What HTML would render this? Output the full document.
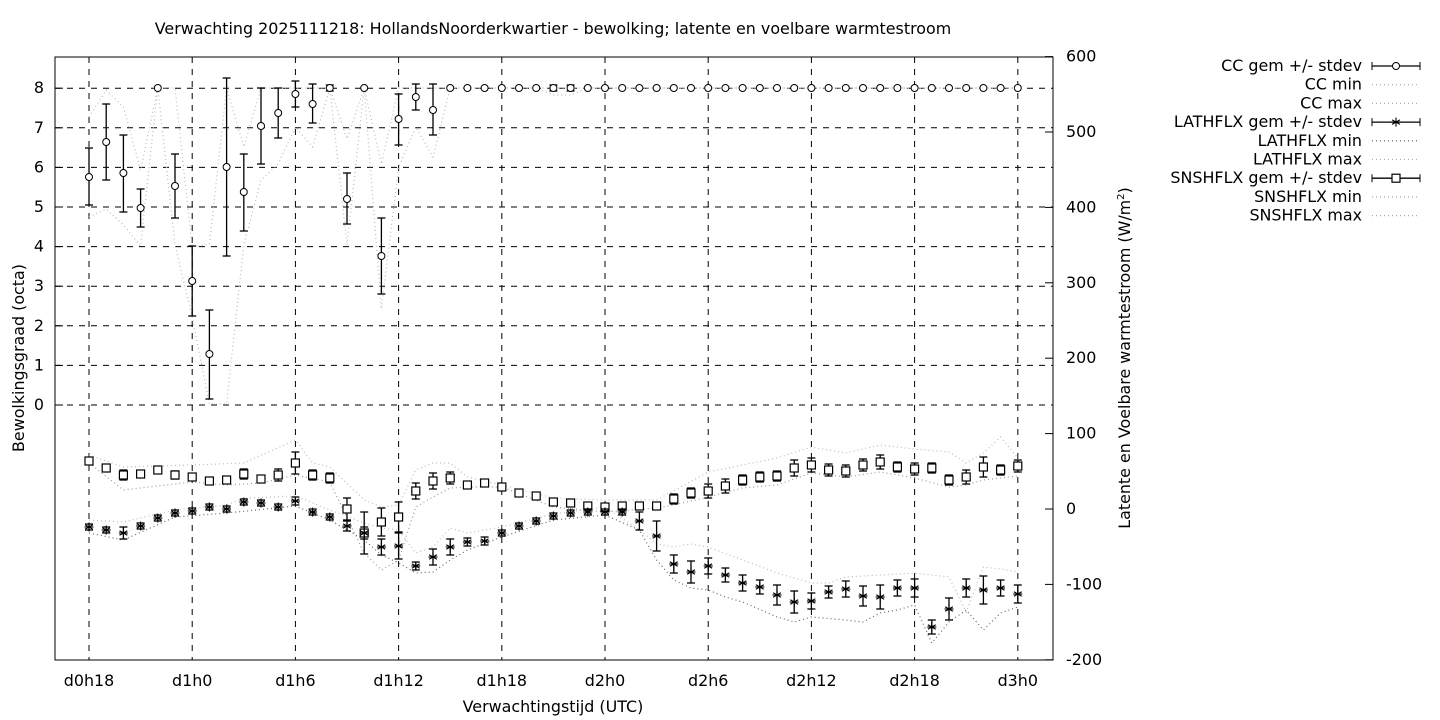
<!DOCTYPE html>
<html><head><meta charset="utf-8"><style>
html,body{margin:0;padding:0;background:#fff;}
svg{display:block;font-family:"DejaVu Sans","Liberation Sans",sans-serif;}
text{font-size:15.9px;fill:#000;}
</style></head><body>
<svg id="s" width="1440" height="720" xmlns="http://www.w3.org/2000/svg">
<text x="553" y="34" text-anchor="middle">Verwachting 2025111218: HollandsNoorderkwartier - bewolking; latente en voelbare warmtestroom</text>
<text x="553" y="712" text-anchor="middle">Verwachtingstijd (UTC)</text>
<text transform="translate(24,358) rotate(-90)" text-anchor="middle">Bewolkingsgraad (octa)</text>
<text transform="translate(1130,358) rotate(-90)" text-anchor="middle">Latente en Voelbare warmtestroom (W/m<tspan font-size="10" dy="-6">2</tspan><tspan dy="6">)</tspan></text>
<g id="g"></g>
</svg>
<script>
const g=document.getElementById('g');const NS='http://www.w3.org/2000/svg';
function el(t,a,txt){const e=document.createElementNS(NS,t);for(const k in a)e.setAttribute(k,a[k]);if(txt!=null)e.textContent=txt;g.appendChild(e);return e;}
const L=55,R=1053,T=57,B=660;
const X=i=>89+i*17.2;
for(let v=0;v<=8;v++){const y=405-v*39.6;el('line',{x1:L,x2:R,y1:y,y2:y,stroke:'#000','stroke-dasharray':'6,6','stroke-width':1});el('text',{x:44,y:y+5,'text-anchor':'end'},v);el('line',{x1:L,x2:L+8,y1:y,y2:y,stroke:'#000'});}
const xl=['d0h18','d1h0','d1h6','d1h12','d1h18','d2h0','d2h6','d2h12','d2h18','d3h0'];
xl.forEach((t,k)=>{const x=X(k*6);el('line',{x1:x,x2:x,y1:T,y2:B,stroke:'#000','stroke-dasharray':'6,6'});el('text',{x:x,y:686,'text-anchor':'middle'},t);});
for(let v=-200;v<=600;v+=100){const y=509-v*0.754;el('line',{x1:R-8,x2:R,y1:y,y2:y,stroke:'#000'});el('text',{x:1066,y:y+5},v);}
el('rect',{x:L,y:T,width:R-L,height:B-T,fill:'none',stroke:'#000'});
function interp(obj){const ks=Object.keys(obj).map(Number).sort((a,b)=>a-b);const out=[];for(let i=0;i<55;i++){if(obj[i]!=null){out.push(obj[i]);continue;}let a=ks.filter(k=>k<i).pop(),b=ks.find(k=>k>i);if(a==null)out.push(obj[b]);else if(b==null)out.push(obj[a]);else out.push(obj[a]+(obj[b]-obj[a])*(i-a)/(b-a));}return out;}
function dline(arr,col){el('polyline',{points:arr.map((y,i)=>X(i)+','+y).join(' '),fill:'none',stroke:col||'#aaa','stroke-width':1.2,'stroke-dasharray':'1,3'});}
const ccM=[177,142,173,208,88,186,281,354,167,192,126,113,94,104,88,199,88,256,119,97,110];while(ccM.length<55)ccM.push(88);
const ccE={0:[148,205],1:[104,180],2:[135,212],3:[189,227],5:[154,218],6:[246,316],7:[310,399],8:[78,256],9:[154,231],10:[88,164],11:[88,138],12:[81,107],13:[84,123],14:[85,91],15:[173,224],17:[218,294],18:[94,145],19:[84,110],20:[84,135],27:[85,91],28:[85,91]};
const ccMin=interp({0:217,1:209,2:225,3:246,4:88,5:245,6:317,7:404,8:404,9:245,10:180,11:164,12:127,13:147,14:88,15:245,16:88,17:309,18:167,19:127,20:157,21:88,26:88,27:95,28:95,29:88,54:88});
const ccMax=interp({0:117,1:90,2:107,3:170,4:88,5:88,6:247,7:244,8:88,9:147,10:88,14:88,15:139,16:88,17:164,18:88,54:88});
dline(ccMin,'#bbb');dline(ccMax,'#bbb');
const shM=[461,468,475,474,470,475,477,481,480,474,479,475,463,475,478,509,533,522,517,491,481,478,485,483,487,493,496,502,503,506,507,506,506,506,499,493,491,486,480,477,476,468,465,470,471,465,462,467,469,468,480,477,467,470,466];
const shE={1:3,2:5,5:4,9:5,11:6,12:11,13:5,14:5,15:11,16:21,17:14,18:15,19:8,20:8,21:6,34:5,35:5,36:7,37:7,38:5,39:5,40:5,41:8,42:7,43:6,44:6,45:6,46:7,47:5,48:6,49:5,50:5,51:7,52:10,53:5,54:6};
const shMax=interp({0:455,2:467,6:465,9:463,12:440,13:463,14:467,16:500,17:507,18:505,19:470,20:463,21:463,22:477,24:485,27:498,30:500,33:500,36:472,38:465,40:458,42:447,44:453,46:445,48:449,50:452,51:463,52:453,53:437,54:458});
const shMin=interp({0:463,2:490,6:482,8:485,10:483,12:475,14:482,16:553,17:570,18:560,19:507,20:497,21:488,22:487,24:487,27:507,30:512,33:508,34:505,36:497,38:488,40:485,42:473,44:477,46:472,48:478,50:487,51:485,52:480,54:476});
const lhM=[527,530,533,526,518,513,511,507,509,502,503,507,501,512,517,526,533,547,546,566,557,547,542,541,533,526,521,516,513,512,512,512,521,536,564,572,566,575,583,587,595,602,601,592,589,596,597,588,588,627,609,588,590,588,594];
const lhE={2:6,12:4,15:5,16:6,17:8,18:13,19:4,20:8,21:8,22:4,23:4,32:9,33:15,34:9,35:11,36:8,37:7,38:8,39:7,40:10,41:11,42:8,43:6,44:8,45:10,46:12,47:8,48:9,49:7,50:11,51:9,52:14,53:8,54:9};
const lhMax=interp({0:520,2:522,5:510,8:505,9:498,12:496,14:510,16:523,17:528,18:530,19:553,20:547,21:528,22:533,24:527,27:514,30:507,32:530,33:544,34:547,35:544,36:547,38:560,40:573,42:583,43:583,44:577,46:575,48:573,50:577,51:612,52:567,53:569,54:572});
const lhMin=interp({0:533,2:540,5:517,8:513,12:506,14:520,16:540,17:555,18:563,19:573,20:572,21:560,22:550,24:537,27:520,30:515,32:530,33:560,34:580,35:588,36:590,37:597,38:602,40:617,41:622,42:617,44:620,45:622,46:613,47:610,48:605,49:643,50:622,51:610,52:630,53:613,54:607});
dline(shMax,'#bbb');dline(shMin,'#999');dline(lhMax,'#bbb');dline(lhMin,'#666');
function ebar(x,y1,y2){el('line',{x1:x,x2:x,y1:y1,y2:y2,stroke:'#000','stroke-width':1.3});el('line',{x1:x-4,x2:x+4,y1:y1,y2:y1,stroke:'#000','stroke-width':1.3});el('line',{x1:x-4,x2:x+4,y1:y2,y2:y2,stroke:'#000','stroke-width':1.3});}
function star(x,y){for(const a of [0,60,120]){const r=a*Math.PI/180;el('line',{x1:x-4.5*Math.sin(r),y1:y-4.5*Math.cos(r),x2:x+4.5*Math.sin(r),y2:y+4.5*Math.cos(r),stroke:'#000','stroke-width':1.1});}el('line',{x1:x-4.5,x2:x+4.5,y1:y,y2:y,stroke:'#000','stroke-width':1.1});}
for(let i=0;i<55;i++){const x=X(i);
 if(ccE[i])ebar(x,ccE[i][0],ccE[i][1]);el('circle',{cx:x,cy:ccM[i],r:3.5,fill:'#fff',stroke:'#000','stroke-width':1});
 const e=shE[i]||3;ebar(x,shM[i]-e,shM[i]+e);el('rect',{x:x-4,y:shM[i]-4,width:8,height:8,fill:'#fff',stroke:'#000','stroke-width':1.2});
 const f=lhE[i]||3;ebar(x,lhM[i]-f,lhM[i]+f);star(x,lhM[i]);}
const lg=[['CC gem +/- stdev','c'],['CC min','d'],['CC max','d'],['LATHFLX gem +/- stdev','s'],['LATHFLX min','d2'],['LATHFLX max','d'],['SNSHFLX gem +/- stdev','q'],['SNSHFLX min','d'],['SNSHFLX max','d']];
lg.forEach((l,k)=>{const y=66+k*18.7;el('text',{x:1362,y:y+5,'text-anchor':'end'},l[0]);
 if(l[1][0]=='d'){el('line',{x1:1372,x2:1420,y1:y,y2:y,stroke:l[1]=='d2'?'#555':'#aaa','stroke-width':1.2,'stroke-dasharray':'1,3'});}
 else{el('line',{x1:1372,x2:1420,y1:y,y2:y,stroke:'#000','stroke-width':1.3});el('line',{x1:1372,x2:1372,y1:y-4,y2:y+4,stroke:'#000'});el('line',{x1:1420,x2:1420,y1:y-4,y2:y+4,stroke:'#000'});
  if(l[1]=='c')el('circle',{cx:1396,cy:y,r:3.5,fill:'#fff',stroke:'#000'});
  if(l[1]=='s')star(1396,y);
  if(l[1]=='q')el('rect',{x:1392,y:y-4,width:8,height:8,fill:'#fff',stroke:'#000','stroke-width':1.2});}});
</script>
</body></html>
